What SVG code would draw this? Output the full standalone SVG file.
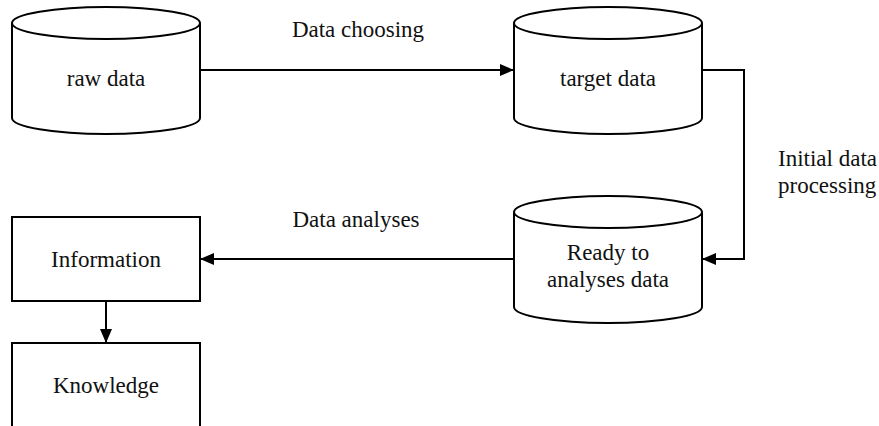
<svg xmlns="http://www.w3.org/2000/svg" width="879" height="426" viewBox="0 0 879 426">
  <style>
    .shape { fill: #fff; stroke: #000; stroke-width: 2; }
    .edge { fill: none; stroke: #000; stroke-width: 2; }
    .lbl { font-family: 'Liberation Serif', 'Times New Roman', serif; font-size: 23px; fill: #111; }
    .c { text-anchor: middle; }
  </style>
  <defs>
    <marker id="arrow" markerUnits="userSpaceOnUse" markerWidth="14" markerHeight="12" refX="14" refY="6" orient="auto">
      <path d="M0,0 L14,6 L0,12 z" fill="#000"/>
    </marker>
  </defs>

  <!-- database cylinders -->
  <g id="raw-data">
    <path class="shape" d="M12,23 V118 A94,16 0 0 0 200,118 V23"/>
    <ellipse class="shape" cx="106" cy="23" rx="94" ry="16"/>
    <text class="lbl c" x="106" y="86">raw data</text>
  </g>

  <g id="target-data">
    <path class="shape" d="M514,23 V118 A94,16 0 0 0 702,118 V23"/>
    <ellipse class="shape" cx="608" cy="23" rx="94" ry="16"/>
    <text class="lbl c" x="608" y="86">target data</text>
  </g>

  <g id="ready-data">
    <path class="shape" d="M514,212 V307 A94,16 0 0 0 702,307 V212"/>
    <ellipse class="shape" cx="608" cy="212" rx="94" ry="16"/>
    <text class="lbl c" x="608" y="260">Ready to</text>
    <text class="lbl c" x="608" y="287">analyses data</text>
  </g>

  <!-- plain boxes -->
  <g id="information">
    <rect class="shape" x="12" y="217" width="188" height="84"/>
    <text class="lbl c" x="106" y="267">Information</text>
  </g>

  <g id="knowledge">
    <rect class="shape" x="12" y="343" width="188" height="84"/>
    <text class="lbl c" x="106" y="393">Knowledge</text>
  </g>

  <!-- connectors and their labels -->
  <g id="connectors">
    <path class="edge" d="M200,70 H514" marker-end="url(#arrow)"/>
    <path class="edge" d="M702,70 H744 V259 H702" marker-end="url(#arrow)"/>
    <path class="edge" d="M514,259 H200" marker-end="url(#arrow)"/>
    <path class="edge" d="M106,301 V343" marker-end="url(#arrow)"/>
    <text class="lbl c" x="358" y="37">Data choosing</text>
    <text class="lbl c" x="356" y="227">Data analyses</text>
    <text class="lbl" x="778" y="166">Initial data</text>
    <text class="lbl" x="778" y="193">processing</text>
  </g>
</svg>
